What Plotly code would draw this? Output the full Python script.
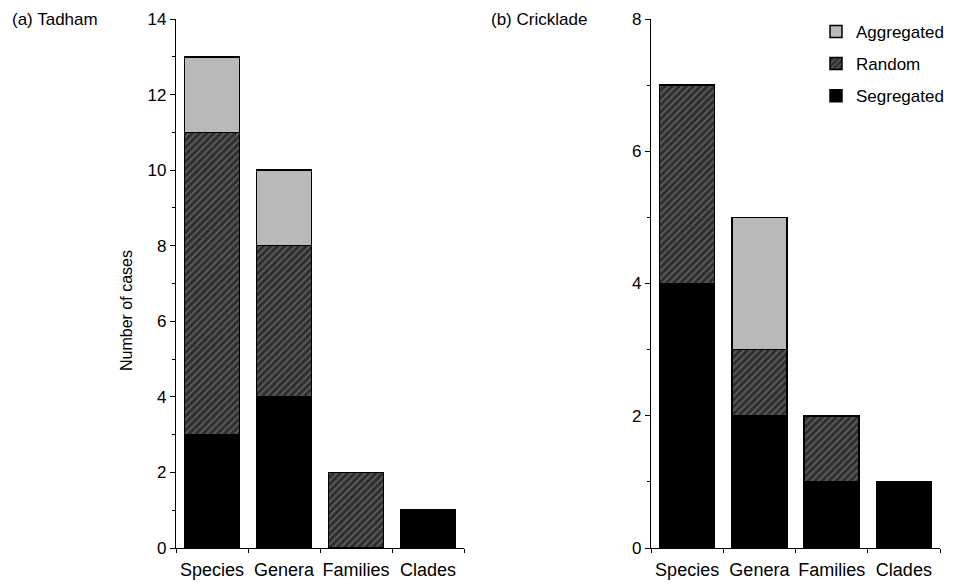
import plotly.graph_objects as go

categories = ["Species", "Genera", "Families", "Clades"]

tadham_segregated = [3, 4, 0, 1]
tadham_random = [8, 4, 2, 0]
tadham_aggregated = [2, 2, 0, 0]

cricklade_segregated = [4, 2, 1, 1]
cricklade_random = [3, 1, 1, 0]
cricklade_aggregated = [0, 2, 0, 0]

panel_titles = ["(a) Tadham", "(b) Cricklade"]
left_yticks = [0, 2, 4, 6, 8, 10, 12, 14]
right_yticks = [0, 2, 4, 6, 8]

FONT = "Liberation Sans, Arial, sans-serif"
W, H, T, B = 970, 584, 19, 36
PH = H - T - B

fig = go.Figure()

styles = {
    "Segregated": dict(color="#000000", rank=3),
    "Random": dict(color="#2e2e2e", rank=2, pattern=dict(shape="/", fgcolor="#8c8c8c", size=5, solidity=0.35)),
    "Aggregated": dict(color="#b9b9b9", rank=1),
}

panels = [
    ("x", "y", tadham_segregated, tadham_random, tadham_aggregated, True),
    ("x2", "y2", cricklade_segregated, cricklade_random, cricklade_aggregated, False),
]

for xa, ya, seg, rnd, agg, show in panels:
    for name, vals in [("Segregated", seg), ("Random", rnd), ("Aggregated", agg)]:
        st = styles[name]
        marker = dict(color=st["color"], line=dict(color="#000000", width=1.5))
        if "pattern" in st:
            marker["pattern"] = st["pattern"]
        fig.add_trace(go.Bar(
            x=categories, y=vals, name=name, xaxis=xa, yaxis=ya,
            marker=marker, width=0.76, showlegend=show, legendgroup=name,
            legendrank=st["rank"],
        ))

axis_common = dict(showline=True, linecolor="#000000", linewidth=1.3, ticks="outside",
                   tickcolor="#000000", tickwidth=1.2, showgrid=False, zeroline=False,
                   automargin=False)

fig.update_layout(
    barmode="stack",
    width=W, height=H,
    margin=dict(l=0, r=0, t=T, b=B),
    paper_bgcolor="white", plot_bgcolor="white",
    font=dict(family=FONT, size=17, color="#000000"),
    xaxis=dict(domain=[176/W, 464/W], anchor="y", tickson="boundaries", ticklen=4,
               tickangle=0, tickfont=dict(size=18), ticklabelstandoff=5, **axis_common),
    yaxis=dict(range=[0, 14], tickvals=left_yticks, anchor="x", ticklen=5,
               tickfont=dict(size=17),
               minor=dict(dtick=1, ticklen=3, ticks="outside", tickcolor="#000000"), **axis_common),
    xaxis2=dict(domain=[651/W, 940/W], anchor="y2", tickson="boundaries", ticklen=4,
                tickangle=0, tickfont=dict(size=18), ticklabelstandoff=5, **axis_common),
    yaxis2=dict(range=[0, 8], tickvals=right_yticks, anchor="x2", ticklen=5,
                tickfont=dict(size=17),
                minor=dict(dtick=1, ticklen=3, ticks="outside", tickcolor="#000000"), **axis_common),
    legend=dict(x=816/W, y=1.0095, xanchor="left", yanchor="top",
                traceorder="grouped", tracegroupgap=7,
                font=dict(family=FONT, size=17, color="#000000"), bgcolor="rgba(0,0,0,0)"),
)

def px_y(py):
    return (H - B - py) / PH

ann = [
    dict(text=panel_titles[0], x=10/W, y=px_y(19), xanchor="left", yanchor="middle", size=17),
    dict(text=panel_titles[1], x=489/W, y=px_y(19), xanchor="left", yanchor="middle", size=17),
    dict(text="Number of cases", x=127/W, y=px_y(311), xanchor="center", yanchor="middle",
         textangle=-90, size=16),
]
for a in ann:
    size = a.pop("size")
    fig.add_annotation(xref="paper", yref="paper", showarrow=False,
                       font=dict(family=FONT, size=size, color="#000000"), **a)

fig.write_html("out.html", config={"displayModeBar": False},
               post_script="document.body.style.margin='0';document.body.style.overflow='hidden';")
